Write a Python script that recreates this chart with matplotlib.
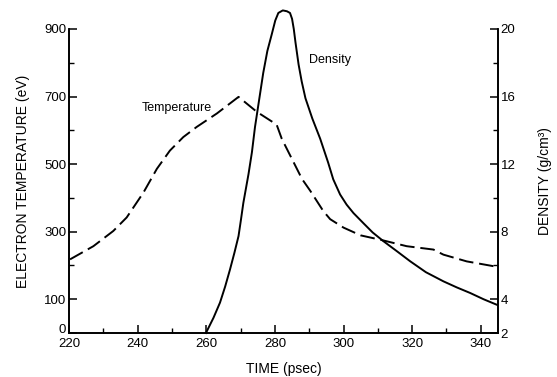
import matplotlib
matplotlib.use("Agg")
import matplotlib.pyplot as plt
from matplotlib.ticker import FixedLocator

plt.rcParams['font.family'] = ['Liberation Sans', 'DejaVu Sans']

# Temperature (eV) vs time (psec)
temp_time = [220.3, 227.1, 232.9, 236.8, 241.7, 245.6, 249.4, 253.3, 257.2, 263.1,
             269.4, 274.7, 280.5, 282.0, 287.9, 290.3, 294.1, 296.1, 300.0, 305.0,
             311.2, 318.4, 326.2, 329.1, 335.9, 344.7]
temp_vals = [218, 257, 302, 342, 416, 486, 540, 580, 610, 650,
             699, 655, 617, 575, 456, 421, 361, 337, 312, 289,
             275, 257, 247, 232, 212, 196]

# Density (g/cm3) vs time (psec)
dens_time = [259.9, 262.1, 264.0, 265.5, 266.9, 268.2, 269.4, 270.1, 270.8, 272.3,
             273.3, 274.2, 275.4, 276.6, 277.8, 279.1, 280.1, 281.0, 282.3, 283.5,
             284.4, 285.0, 285.5, 286.0, 286.9, 287.8, 288.9, 290.9, 293.2, 295.5,
             297.0, 299.0, 300.9, 302.9, 305.8, 308.5, 311.6, 315.5, 319.4, 324.0,
             329.1, 333.0, 336.9, 340.8, 344.7]
dens_vals = [2.0, 2.9, 3.8, 4.75, 5.75, 6.75, 7.74, 8.7, 9.7, 11.4,
             12.7, 14.2, 15.8, 17.4, 18.7, 19.7, 20.5, 20.95, 21.1, 21.05,
             20.95, 20.6, 20.0, 19.2, 17.9, 16.9, 15.9, 14.7, 13.5, 12.1,
             11.1, 10.2, 9.6, 9.1, 8.5, 7.95, 7.44, 6.85, 6.25, 5.6,
             5.06, 4.7, 4.37, 4.0, 3.67]

x_major = [220, 240, 260, 280, 300, 320, 340]
x_minor = [230, 250, 270, 290, 310, 330]
t_major = [0, 100, 300, 500, 700, 900]
t_minor = [200, 400, 600, 800]
d_major = [2, 4, 8, 12, 16, 20]
d_minor = [6, 10, 14, 18]

fig = plt.figure(figsize=(5.57, 3.77), dpi=100)
ax = fig.add_axes([0.1239, 0.1167, 0.894 - 0.1239, 0.8064])
ax2 = ax.twinx()

ax.plot(temp_time, temp_vals, color='black', lw=1.4, linestyle=(0, (7.5, 3.0)))
ax2.plot(dens_time, dens_vals, color='black', lw=1.4, clip_on=False)

ax.set_xlim(220, 345)
ax.set_ylim(0, 900)
ax2.set_ylim(2, 20)

for a in (ax, ax2):
    a.spines['top'].set_visible(False)
    for s in a.spines.values():
        s.set_linewidth(1.2)

ax.xaxis.set_major_locator(FixedLocator(x_major))
ax.xaxis.set_minor_locator(FixedLocator(x_minor))
ax.yaxis.set_major_locator(FixedLocator(t_major))
ax.yaxis.set_minor_locator(FixedLocator(t_minor))
ax2.yaxis.set_major_locator(FixedLocator(d_major))
ax2.yaxis.set_minor_locator(FixedLocator(d_minor))

ax.tick_params(axis='x', which='major', direction='in', length=6, width=1.1,
               labelsize=9.5, pad=3.5)
ax.tick_params(axis='y', which='major', direction='in', length=6, width=1.1,
               labelsize=9.5, pad=2)
ax.tick_params(axis='both', which='minor', direction='in', length=3.5, width=1.0)
ax2.tick_params(axis='y', which='major', direction='in', length=6, width=1.1,
                labelsize=9.5, pad=2)
ax2.tick_params(axis='y', which='minor', direction='in', length=3.5, width=1.0)

ax.yaxis.get_major_ticks()[0].label1.set_va('baseline')

ax.set_xlabel('TIME (psec)', fontsize=10, labelpad=9)
ax.set_ylabel('ELECTRON TEMPERATURE (eV)', fontsize=10, labelpad=10)
ax2.set_ylabel('DENSITY (g/cm³)', fontsize=10, labelpad=16)

ax.text(261.5, 667, 'Temperature', fontsize=9, ha='right', va='center')
ax.text(290.0, 808, 'Density', fontsize=9, ha='left', va='center')

fig.savefig('out.png', dpi=100)
